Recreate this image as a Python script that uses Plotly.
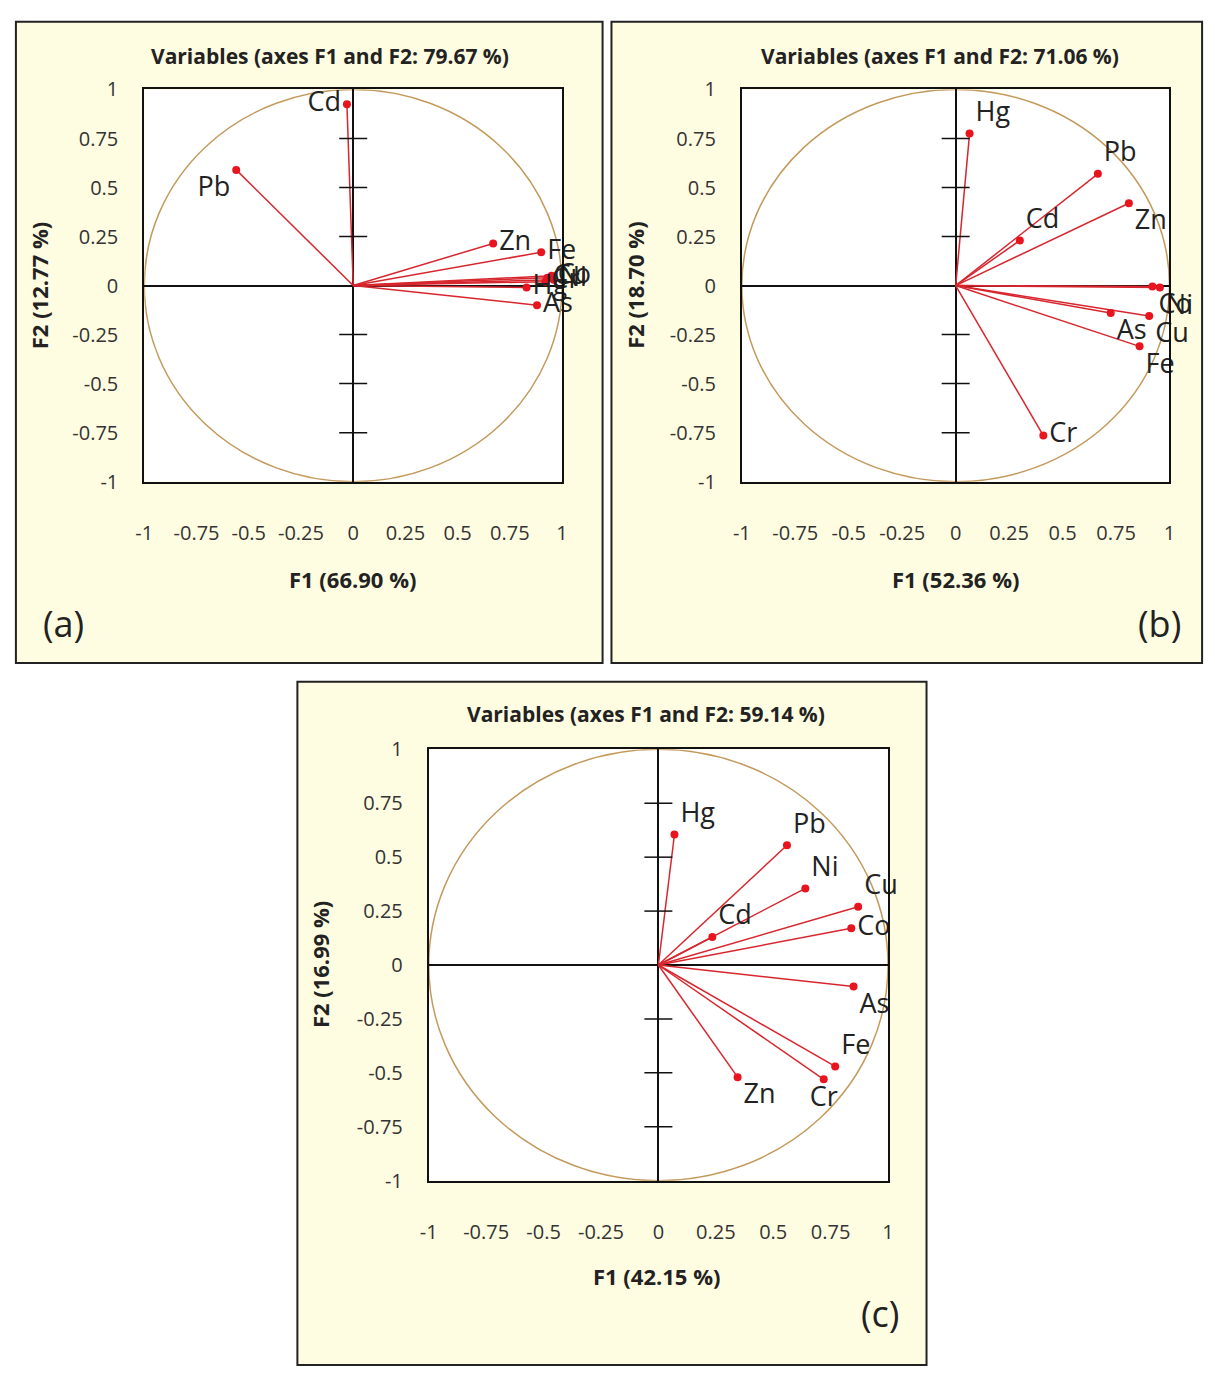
import plotly.graph_objects as go

# ---------------- data ----------------
tick_vals = [-1, -0.75, -0.5, -0.25, 0, 0.25, 0.5, 0.75, 1]
tick_text = ["-1", "-0.75", "-0.5", "-0.25", "0", "0.25", "0.5", "0.75", "1"]
inner_ticks = [-0.75, -0.5, -0.25, 0.25, 0.5, 0.75]

vars_a = ["Cd", "Pb", "Zn", "Fe", "Cu", "Co", "Ni", "Cr", "Hg", "As"]
f1_a = [-0.03, -0.56, 0.67, 0.90, 0.93, 0.95, 0.96, 0.92, 0.83, 0.88]
f2_a = [0.925, 0.59, 0.215, 0.17, 0.04, 0.05, 0.03, 0.02, -0.01, -0.10]
title_a = "Variables (axes F1 and F2: 79.67 %)"
xlab_a = "F1 (66.90 %)"
ylab_a = "F2 (12.77 %)"

vars_b = ["Hg", "Pb", "Cd", "Zn", "Ni", "Co", "As", "Cu", "Fe", "Cr"]
f1_b = [0.065, 0.665, 0.30, 0.81, 0.955, 0.92, 0.725, 0.905, 0.86, 0.41]
f2_b = [0.775, 0.57, 0.23, 0.42, -0.01, -0.005, -0.14, -0.155, -0.31, -0.765]
title_b = "Variables (axes F1 and F2: 71.06 %)"
xlab_b = "F1 (52.36 %)"
ylab_b = "F2 (18.70 %)"

vars_c = ["Hg", "Pb", "Ni", "Cu", "Co", "Cd", "As", "Fe", "Cr", "Zn"]
f1_c = [0.07, 0.56, 0.64, 0.87, 0.84, 0.235, 0.85, 0.77, 0.72, 0.345]
f2_c = [0.605, 0.555, 0.355, 0.27, 0.17, 0.13, -0.10, -0.47, -0.53, -0.52]
title_c = "Variables (axes F1 and F2: 59.14 %)"
xlab_c = "F1 (42.15 %)"
ylab_c = "F2 (16.99 %)"

# label placement (style)
pos_a = ["middle left", "bottom left", "middle right", "middle right", "middle right",
         "middle right", "middle right", "middle right", "middle right", "middle right"]
pos_b = ["top right", "top right", "top right", "bottom right", "bottom right",
         "bottom right", "bottom right", "bottom right", "bottom right", "middle right"]
pos_c = ["top right", "top right", "top right", "top right", "middle right",
         "top right", "bottom right", "top right", "bottom center", "bottom right"]

# ---------------- style ----------------
W, H = 1215, 1379
FONT = "Open Sans"
PANEL_BG = "#FFFDE1"
LINE_RED = "#D8262E"
DOT_RED = "#E8141E"
CIRCLE = "#C49A5C"


def px(x):
    return x / W


def py(y):
    return 1 - y / H


panels = [
    dict(vars=vars_a, f1=f1_a, f2=f2_a, pos=pos_a, title=title_a, xl=xlab_a, yl=ylab_a,
         dom_x=(137, 560), dom_y=(77, 477), frame=(7, 8, 601, 662),
         title_xy=(325, 43), xl_xy=(348, 576), yl_xy=(30, 277), tag="(a)", tag_xy=(55, 622)),
    dict(vars=vars_b, f1=f1_b, f2=f2_b, pos=pos_b, title=title_b, xl=xlab_b, yl=ylab_b,
         dom_x=(742, 1175), dom_y=(77, 477), frame=(610, 8, 1208, 662),
         title_xy=(943, 43), xl_xy=(958, 576), yl_xy=(633, 277), tag="(b)", tag_xy=(1165, 622)),
    dict(vars=vars_c, f1=f1_c, f2=f2_c, pos=pos_c, title=title_c, xl=xlab_c, yl=ylab_c,
         dom_x=(425, 890), dom_y=(750, 1190), frame=(292, 681, 929, 1378),
         title_xy=(645, 714), xl_xy=(656, 1287), yl_xy=(315, 970), tag="(c)", tag_xy=(882, 1325)),
]

fig = go.Figure()
shapes = []
annotations = []
layout_axes = {}

for i, p in enumerate(panels):
    n = "" if i == 0 else str(i + 1)
    xa, ya = "x" + n, "y" + n

    fx0, fy0, fx1, fy1 = p["frame"]
    shapes.append(dict(type="rect", xref="paper", yref="paper",
                       x0=px(fx0), x1=px(fx1), y0=py(fy1), y1=py(fy0),
                       fillcolor=PANEL_BG, line=dict(color="#222", width=2), layer="below"))
    shapes.append(dict(type="rect", xref=xa, yref=ya, x0=-1, x1=1, y0=-1, y1=1,
                       fillcolor="white", line=dict(width=0), layer="below"))
    shapes.append(dict(type="circle", xref=xa, yref=ya, x0=-1, x1=1, y0=-1, y1=1,
                       line=dict(color=CIRCLE, width=1.5), layer="below"))

    lx, ly = [], []
    for a, b in zip(p["f1"], p["f2"]):
        lx += [0, a, None]
        ly += [0, b, None]
    fig.add_trace(go.Scatter(x=lx, y=ly, mode="lines", xaxis=xa, yaxis=ya,
                             line=dict(color=LINE_RED, width=1.5),
                             hoverinfo="skip", showlegend=False))
    fig.add_trace(go.Scatter(x=[0] * len(inner_ticks), y=inner_ticks, mode="markers",
                             xaxis=xa, yaxis=ya,
                             marker=dict(symbol="line-ew", size=20,
                                         line=dict(color="#111", width=1.5)),
                             hoverinfo="skip", showlegend=False))
    fig.add_trace(go.Scatter(x=p["f1"], y=p["f2"], mode="markers+text", text=p["vars"],
                             textposition=p["pos"], xaxis=xa, yaxis=ya,
                             marker=dict(color=DOT_RED, size=8),
                             textfont=dict(family=FONT, size=27, color="#222"),
                             cliponaxis=False, showlegend=False))

    dx0, dx1 = p["dom_x"]
    dy0, dy1 = p["dom_y"]
    common = dict(range=[-1, 1], showgrid=False, zeroline=True, zerolinecolor="#111",
                  zerolinewidth=1.5, showline=True, mirror=True, linecolor="#111",
                  linewidth=2, tickmode="array", tickvals=tick_vals, ticktext=tick_text,
                  ticks="", tickfont=dict(family=FONT, size=20, color="#333"),
                  fixedrange=True)
    layout_axes["xaxis" + n] = dict(common, domain=[px(dx0), px(dx1)], anchor=ya,
                                    ticklabelstandoff=32)
    layout_axes["yaxis" + n] = dict(common, domain=[py(dy1), py(dy0)], anchor=xa,
                                    ticklabelstandoff=20)

    tx, ty = p["title_xy"]
    annotations.append(dict(text="<b>%s</b>" % p["title"], x=px(tx), y=py(ty),
                            xref="paper", yref="paper", showarrow=False,
                            xanchor="center", yanchor="middle",
                            font=dict(family=FONT, size=21, color="#222")))
    ax_, ay_ = p["xl_xy"]
    annotations.append(dict(text="<b>%s</b>" % p["xl"], x=px(ax_), y=py(ay_),
                            xref="paper", yref="paper", showarrow=False,
                            xanchor="center", yanchor="middle",
                            font=dict(family=FONT, size=22, color="#222")))
    bx_, by_ = p["yl_xy"]
    annotations.append(dict(text="<b>%s</b>" % p["yl"], x=px(bx_), y=py(by_),
                            xref="paper", yref="paper", showarrow=False, textangle=-90,
                            xanchor="center", yanchor="middle",
                            font=dict(family=FONT, size=22, color="#222")))
    gx, gy = p["tag_xy"]
    annotations.append(dict(text=p["tag"], x=px(gx), y=py(gy),
                            xref="paper", yref="paper", showarrow=False,
                            xanchor="center", yanchor="middle",
                            font=dict(family=FONT, size=36, color="#222")))

fig.update_layout(width=W, height=H, margin=dict(l=0, r=0, t=0, b=0),
                  paper_bgcolor="white", plot_bgcolor="white",
                  shapes=shapes, annotations=annotations, showlegend=False,
                  **layout_axes)

fig.write_html(
    "out.html",
    config={"displayModeBar": False},
    post_script=(
        "var d=document.getElementById('{plot_id}');"
        "d.style.position='fixed';d.style.left='0px';d.style.top='0px';"
        "document.body.style.margin='0';document.body.style.padding='0';"
        "document.documentElement.style.overflow='hidden';"
    ),
)
